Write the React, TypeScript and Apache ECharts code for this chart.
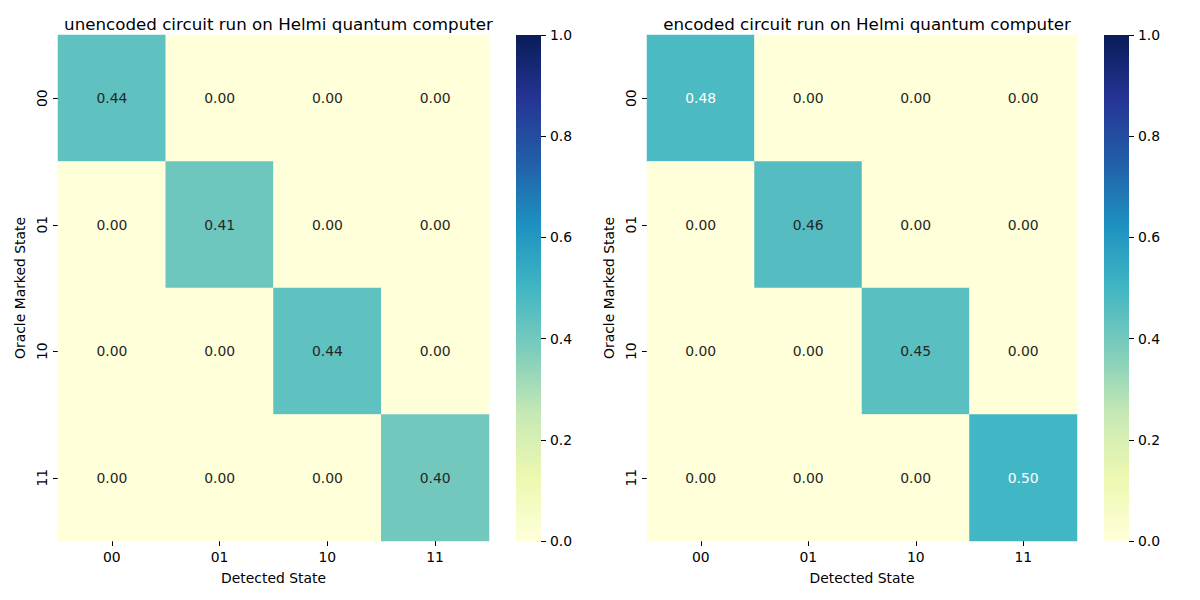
import React, { useEffect, useRef } from "react";
import * as echarts from "echarts";

const states = ["00", "01", "10", "11"];
const titles = [
  "unencoded circuit run on Helmi quantum computer",
  "encoded circuit run on Helmi quantum computer",
];
// rows: oracle marked state, cols: detected state
const unencoded = [
  [0.44, 0.0, 0.0, 0.0],
  [0.0, 0.41, 0.0, 0.0],
  [0.0, 0.0, 0.44, 0.0],
  [0.0, 0.0, 0.0, 0.4],
];
const encoded = [
  [0.48, 0.0, 0.0, 0.0],
  [0.0, 0.46, 0.0, 0.0],
  [0.0, 0.0, 0.45, 0.0],
  [0.0, 0.0, 0.0, 0.5],
];
const ylgnbu = [
  "#ffffd9", "#edf8b1", "#c7e9b4", "#7fcdbb", "#41b6c4",
  "#1d91c0", "#225ea8", "#253494", "#081d58",
];

const FONT = "DejaVu Sans";
const FS = 13.9;

export default function App() {
  const ref = useRef<HTMLDivElement>(null);
  useEffect(() => {
    document.body.style.margin = "0";
    const chart = echarts.init(ref.current!, null, { renderer: "svg" });
    const panels = [
      { left: 58, width: 431, cbLeft: 516, data: unencoded },
      { left: 647, width: 430, cbLeft: 1104, data: encoded },
    ];
    const top = 35;
    const height = 506;
    const grids: any[] = [];
    const xAxes: any[] = [];
    const yAxes: any[] = [];
    const series: any[] = [];
    const visualMaps: any[] = [];
    const graphics: any[] = [];
    const titleArr: any[] = [];
    panels.forEach((p, i) => {
      grids.push({ left: p.left, top, width: p.width, height });
      grids.push({ left: p.cbLeft, top, width: 25, height });
      const gi = i * 2;
      xAxes.push({
        type: "category",
        gridIndex: gi,
        data: states,
        name: "Detected State",
        nameLocation: "middle",
        nameGap: 30,
        nameTextStyle: { fontFamily: FONT, fontSize: FS, color: "#000" },
        axisLine: { show: false },
        axisTick: { show: true, alignWithLabel: true, length: 5, lineStyle: { color: "#000" } },
        axisLabel: { fontFamily: FONT, fontSize: FS, color: "#000", margin: 9 },
        splitLine: { show: false },
      });
      yAxes.push({
        type: "category",
        gridIndex: gi,
        data: states,
        inverse: true,
        name: "Oracle Marked State",
        nameLocation: "middle",
        nameGap: 31,
        nameTextStyle: { fontFamily: FONT, fontSize: FS, color: "#000" },
        axisLine: { show: false },
        axisTick: { show: true, alignWithLabel: true, length: 5, lineStyle: { color: "#000" } },
        axisLabel: { fontFamily: FONT, fontSize: FS, color: "#000", margin: 9, rotate: 90 },
        splitLine: { show: false },
      });
      xAxes.push({ type: "value", gridIndex: gi + 1, show: false, min: 0, max: 1 });
      yAxes.push({
        type: "value",
        gridIndex: gi + 1,
        position: "right",
        min: 0,
        max: 1,
        interval: 0.2,
        axisLine: { show: false, onZero: false },
        axisTick: { show: true, length: 5, lineStyle: { color: "#000" } },
        axisLabel: {
          fontFamily: FONT,
          fontSize: FS,
          color: "#000",
          margin: 9,
          formatter: (v: number) => v.toFixed(1),
        },
        splitLine: { show: false },
      });
      const items: any[] = [];
      p.data.forEach((row, r) =>
        row.forEach((v, c) => {
          items.push({
            value: [c, r, v],
            label: { color: v >= 0.47 ? "#ffffff" : "#262626" },
          });
        })
      );
      series.push({
        type: "heatmap",
        xAxisIndex: gi,
        yAxisIndex: gi,
        data: items,
        label: {
          show: true,
          fontFamily: FONT,
          fontSize: FS,
          formatter: (pr: any) => pr.value[2].toFixed(2),
        },
        emphasis: { disabled: true },
        itemStyle: { borderWidth: 0 },
      });
      series.push({ type: "line", xAxisIndex: gi + 1, yAxisIndex: gi + 1, data: [] });
      visualMaps.push({
        type: "continuous",
        show: false,
        min: 0,
        max: 1,
        seriesIndex: i * 2,
        dimension: 2,
        inRange: { color: ylgnbu },
      });
      graphics.push({
        type: "rect",
        left: p.cbLeft,
        top,
        shape: { width: 25, height },
        style: {
          fill: {
            type: "linear",
            x: 0,
            y: 1,
            x2: 0,
            y2: 0,
            colorStops: ylgnbu.map((c, k) => ({ offset: k / (ylgnbu.length - 1), color: c })),
          },
        },
        z: -1,
      });
      titleArr.push({
        text: titles[i],
        left: p.left + p.width / 2,
        top: 10,
        textAlign: "center",
        textStyle: { fontFamily: FONT, fontSize: 16.7, fontWeight: "normal", color: "#000" },
      });
    });
    chart.setOption({
      animation: false,
      backgroundColor: "#fff",
      title: titleArr,
      grid: grids,
      xAxis: xAxes,
      yAxis: yAxes,
      visualMap: visualMaps,
      series,
      graphic: graphics,
    });
    return () => chart.dispose();
  }, []);
  return <div ref={ref} style={{ width: 1200, height: 600 }} />;
}
